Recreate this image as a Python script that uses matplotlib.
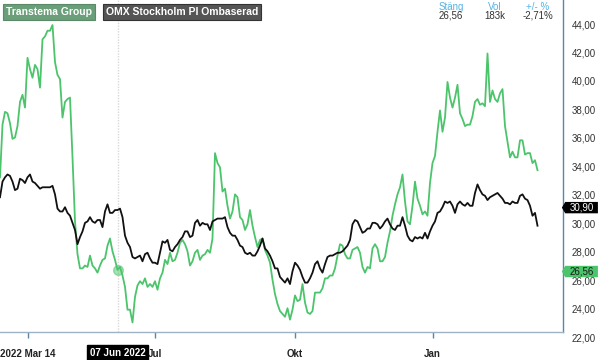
import matplotlib
matplotlib.use("Agg")
import matplotlib.pyplot as plt
from matplotlib.patches import Polygon
import numpy as np

plt.rcParams['font.family'] = ['Liberation Sans', 'DejaVu Sans']

# ---- data (one value per sampled session) ----
transtema = [
    33.3, 37.0, 37.9, 37.8, 37.1, 36.0, 36.1, 36.9, 38.6, 39.1,
    38.2, 41.7, 40.9, 40.3, 41.2, 40.9, 39.6, 43.0, 43.2, 43.6,
    43.6, 44.0, 41.4, 40.5, 40.2, 37.5, 38.6, 38.8, 38.9, 34.7,
    30.2, 27.9, 26.9, 26.9, 27.1, 27.0, 27.8, 27.1, 26.9, 26.6,
    27.1, 27.5, 27.6, 28.5, 29.0, 28.1, 27.5, 26.8, 27.0, 26.4,
    25.6, 24.0, 24.0, 23.1, 24.9, 25.7, 26.0, 25.8, 26.2, 25.6,
    25.8, 25.6, 26.0, 25.4, 26.2, 26.6, 27.5, 27.2, 28.0, 27.4,
    27.5, 28.0, 28.7, 28.9, 28.6, 28.1, 27.1, 27.4, 28.0, 28.2,
    27.5, 27.8, 27.9, 28.2, 28.0, 29.0, 35.0, 34.3, 34.0, 32.3,
    32.5, 31.3, 30.4, 30.9, 32.1, 31.9, 30.5, 30.3, 29.6, 30.0,
    31.0, 29.9, 29.1, 28.4, 28.9, 29.0, 28.2, 27.8, 27.3, 26.1,
    25.1, 24.4, 23.9, 23.7, 23.5, 24.1, 23.3, 24.0, 25.0, 24.6,
    24.7, 25.8, 24.5, 23.8, 23.7, 23.9, 25.2, 25.2, 25.2, 25.5,
    26.2, 26.2, 26.4, 26.4, 26.9, 27.8, 28.6, 28.5, 27.9, 27.6,
    27.6, 28.2, 28.3, 28.4, 28.0, 27.0, 26.6, 27.0, 26.9, 28.3,
    28.6, 28.3, 27.4, 27.4, 27.7, 28.7, 29.5, 30.6, 31.4, 32.1,
    32.6, 33.5, 31.6, 30.2, 30.0, 31.3, 33.0, 31.8, 31.3, 30.7,
    30.9, 30.6, 32.9, 34.3, 34.8, 36.5, 38.0, 36.5, 37.5, 40.0,
    38.9, 38.2, 38.9, 39.8, 37.8, 37.4, 36.9, 37.0, 37.0, 37.6,
    38.6, 38.8, 38.4, 38.5, 38.3, 42.0, 38.6, 39.4, 38.8, 38.6,
    39.2, 39.5, 36.9, 35.8, 34.7, 35.1, 34.7, 34.7, 35.9, 35.9,
    34.9, 35.0, 35.0, 34.3, 34.5, 33.8,
]
omx = [
    31.9, 33.0, 33.3, 33.5, 33.4, 33.0, 32.4, 32.5, 33.2, 33.1,
    32.9, 33.3, 33.5, 33.0, 32.9, 32.7, 32.5, 32.6, 32.6, 32.6,
    32.6, 32.7, 32.1, 31.1, 30.9, 30.9, 31.2, 30.8, 30.6, 30.1,
    29.6, 28.6, 29.1, 29.5, 30.1, 30.2, 30.5, 30.2, 30.1, 30.3,
    30.3, 29.8, 30.9, 31.4, 30.8, 30.8, 31.0, 31.0, 31.1, 30.5,
    29.2, 28.7, 28.4, 27.7, 27.6, 27.7, 27.8, 27.4, 27.9, 28.0,
    27.6, 27.3, 27.3, 27.2, 28.0, 28.8, 28.7, 28.9, 28.2, 28.1,
    28.4, 28.6, 28.9, 29.1, 29.5, 29.5, 29.1, 29.2, 30.1, 30.3,
    29.9, 30.1, 30.0, 30.0, 29.6, 30.2, 30.3, 30.4, 30.4, 30.4,
    30.5, 29.8, 29.4, 29.2, 29.2, 28.9, 28.5, 28.4, 28.0, 27.9,
    28.0, 27.8, 27.8, 28.1, 28.5, 29.0, 28.3, 28.1, 27.8, 27.4,
    26.9, 26.9, 26.3, 26.1, 25.9, 26.2, 25.8, 26.7, 27.3, 27.1,
    26.8, 26.3, 25.9, 25.9, 26.2, 26.6, 27.2, 27.4, 26.9, 26.6,
    27.2, 27.7, 27.8, 27.8, 27.9, 28.0, 28.0, 28.1, 28.3, 28.5,
    28.9, 30.0, 30.3, 30.2, 29.8, 29.4, 29.5, 29.7, 29.7, 30.1,
    30.1, 30.0, 29.7, 29.9, 30.2, 30.4, 30.0, 29.7, 29.6, 29.9,
    29.9, 30.5, 29.9, 29.2, 28.9, 28.8, 29.1, 29.0, 29.1, 29.0,
    29.4, 29.0, 29.5, 29.9, 30.2, 30.8, 30.9, 31.2, 31.6, 31.5,
    31.6, 31.3, 30.8, 31.4, 31.6, 31.4, 31.3, 31.5, 31.3, 31.3,
    32.2, 32.8, 32.4, 32.1, 32.0, 31.7, 31.9, 32.0, 32.1, 32.2,
    32.0, 31.8, 31.5, 31.5, 31.4, 31.6, 31.5, 31.5, 32.0, 32.1,
    31.8, 31.7, 31.3, 30.6, 30.8, 29.9,
]
series_names = ["Transtema Group", "OMX Stockholm PI Ombaserad"]
y_ticks = [22, 24, 26, 28, 30, 32, 34, 36, 38, 40, 42, 44]
x_tick_pos = [11, 62, 118, 173]
x_tick_labels = ["2022 Mar 14", "Jul", "Okt", "Jan"]
hover_idx = 47
hover_label = "07 Jun 2022"
last_tags = [("30,90", 30.90), ("26,56", 26.56)]
info_heads = ["Stäng", "Vol", "+/- %"]
info_vals = ["26,56", "183k", "-2,71%"]

GREEN = "#4cc46b"
BLACK = "#111111"
AXBLUE = "#5a86ad"

fig = plt.figure(figsize=(6, 3.6), dpi=100)
fig.patch.set_facecolor("white")
ax = fig.add_axes([0, 1 - 332 / 360, 563 / 600, 332 / 360])
ax.set_facecolor("white")

x = np.arange(len(transtema))
ax.plot(x, transtema, color=GREEN, lw=1.3, solid_joinstyle="round", zorder=3)
ax.plot(np.arange(len(omx)), omx, color=BLACK, lw=1.3, solid_joinstyle="round", zorder=4)

ax.set_xlim(0, 225.2)
ax.set_ylim(22.43, 45.76)

# crosshair
ax.axvline(hover_idx, color="#d8d8d8", lw=1, ls=(0, (1, 1)), zorder=1)
ax.plot([hover_idx], [transtema[hover_idx]], "o", ms=7, color=GREEN, alpha=0.5,
        mec=GREEN, zorder=5)

for s in ["top", "left"]:
    ax.spines[s].set_visible(False)
ax.spines["right"].set_color(AXBLUE)
ax.spines["bottom"].set_color("#9fb3c6")
ax.spines["right"].set_linewidth(1)
ax.spines["bottom"].set_linewidth(1)

ax.set_yticks([])
ax.set_xticks(x_tick_pos)
ax.set_xticklabels(x_tick_labels, fontsize=7, fontweight="bold", color="#222222")
ax.tick_params(axis="x", direction="out", length=4, width=1, color=AXBLUE, pad=8)

ytr = ax.get_yaxis_transform()
for v in y_ticks:
    ax.text(1.016, v, f"{v:.2f}".replace(".", ","), transform=ytr, fontsize=7,
            color="#333333", va="center", ha="left", clip_on=False)

# last value tags (nudged slightly upward as in the source)
tag_colors = [("black", "white"), ("#4cc46b", "#1a1a1a")]
tag_nudge = [0.27, 0.12]
for (lab, val), (fc, tc), dn in zip(last_tags, tag_colors, tag_nudge):
    yc = val + dn
    h = 0.40
    x0, x1, xt = 1.004, 1.062, 0.998
    poly = Polygon([[xt, yc], [x0, yc + h], [x1, yc + h], [x1, yc - h], [x0, yc - h]],
                   closed=True, transform=ytr, fc=fc, ec="none", clip_on=False, zorder=6)
    ax.add_patch(poly)
    ax.text(1.033, yc, lab, transform=ytr, fontsize=7, color=tc, va="center",
            ha="center", clip_on=False, zorder=7)

# hover date box
xtr = ax.get_xaxis_transform()
ax.text(hover_idx, -0.063, hover_label, transform=xtr, fontsize=7, color="white",
        ha="center", va="center", fontweight="bold", clip_on=False, zorder=8,
        bbox=dict(boxstyle="square,pad=0.3", fc="black", ec="black"))

# legend boxes
fig.text(6 / 600, 1 - 12 / 360, series_names[0], fontsize=7.5, color="white",
         fontweight="bold", ha="left", va="center",
         bbox=dict(boxstyle="square,pad=0.25", fc="#6a9f79", ec="#5a8a68", lw=0.8))
fig.text(106 / 600, 1 - 12 / 360, series_names[1], fontsize=7.5, color="white",
         fontweight="bold", ha="left", va="center",
         bbox=dict(boxstyle="square,pad=0.25", fc="#555555", ec="#333333", lw=0.8))

# info header
for cx, hd, vl in zip([451, 495, 538], info_heads, info_vals):
    fig.text(cx / 600, 1 - 7 / 360, hd, fontsize=7, color="#55b3e3", ha="center", va="center")
    fig.text(cx / 600, 1 - 16 / 360, vl, fontsize=7, color="#333333", ha="center", va="center")

fig.savefig("out.png", dpi=100, facecolor="white")
